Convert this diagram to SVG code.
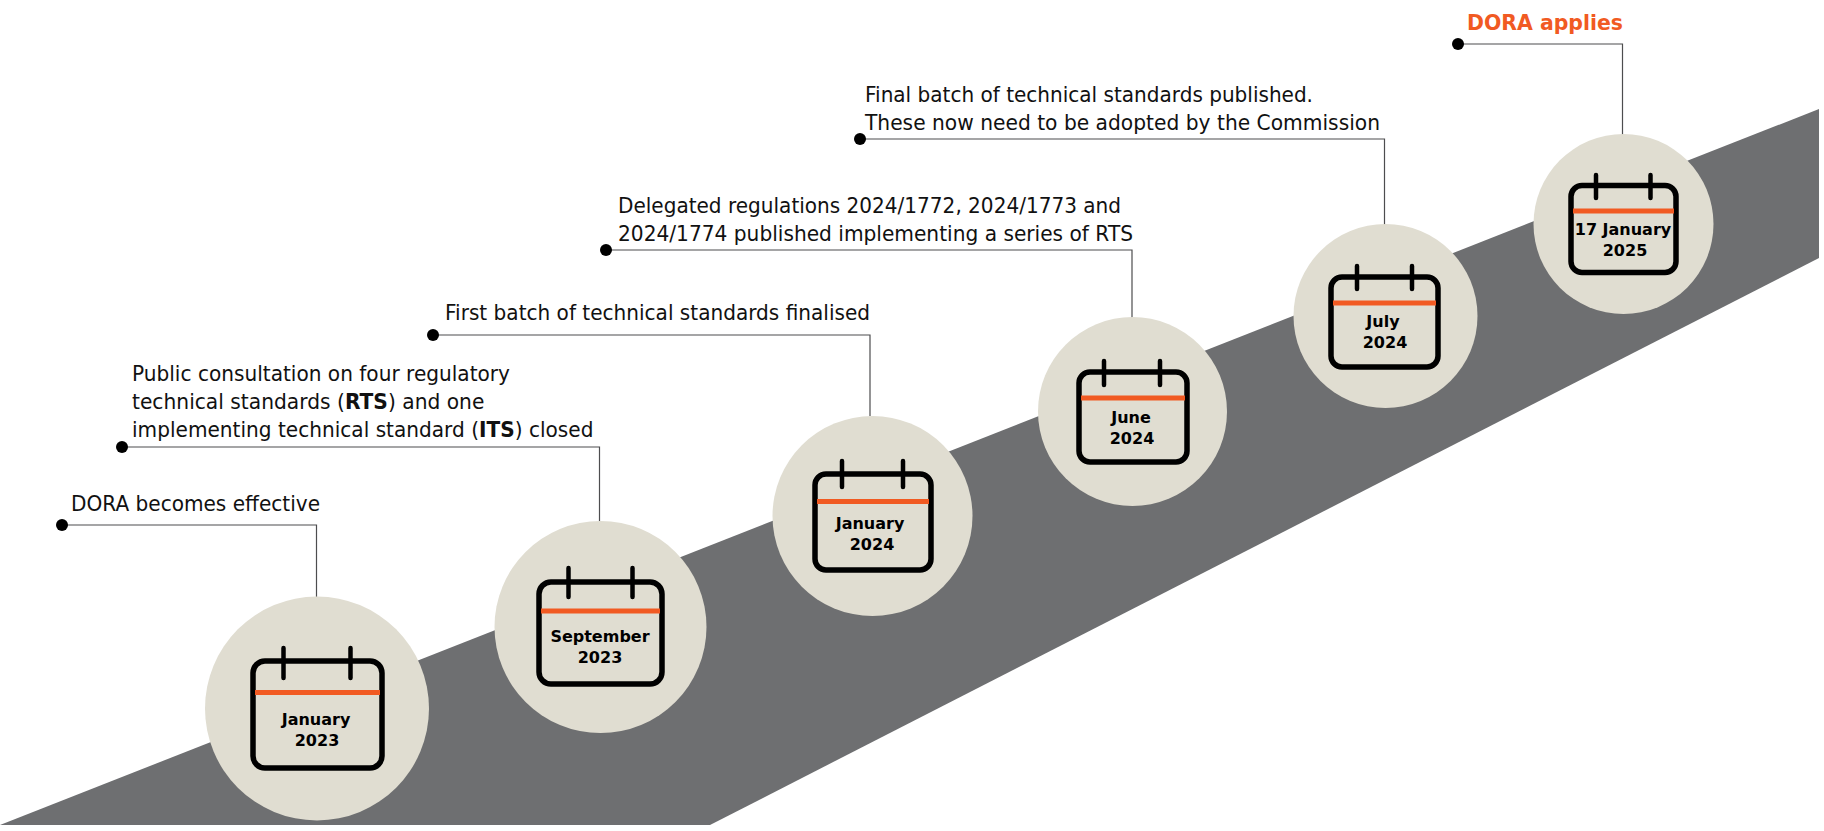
<svg xmlns="http://www.w3.org/2000/svg" width="1824" height="831" viewBox="0 0 1824 831">
<style>
text{font-family:"DejaVu Sans",Verdana,sans-serif}
.t{font-size:20.5px;fill:#111}
.d{font-size:16px;font-weight:bold;fill:#000;text-anchor:middle}
.c{fill:#E0DDD1}
.cal{fill:none;stroke:#000;stroke-width:5.500}
.tick{stroke:#000;stroke-width:4.500;stroke-linecap:round}
.o{stroke:#F15A22;stroke-width:5}
.l{fill:none;stroke:#4d4d4f;stroke-width:1.200}
.dot{fill:#000}
</style>
<polygon id="band" points="0,825 1819,109 1819,258 710,825" fill="#6E6F71"/>
<g id="connectors">
<path class="l" d="M62 525H316.500V598"/>
<path class="l" d="M122 447H599.500V521"/>
<path class="l" d="M433 335H870V416"/>
<path class="l" d="M606 250H1132V318"/>
<path class="l" d="M860 139H1384.500V225"/>
<path class="l" d="M1458 44H1622.500V135"/>
<circle class="dot" cx="62" cy="525" r="6"/>
<circle class="dot" cx="122" cy="447" r="6"/>
<circle class="dot" cx="433" cy="335" r="6"/>
<circle class="dot" cx="606" cy="250" r="6"/>
<circle class="dot" cx="860" cy="139" r="6"/>
<circle class="dot" cx="1458" cy="44" r="6"/>
</g>
<g id="n1">
<circle class="c" cx="317" cy="708.500" r="112"/>
<rect class="cal" x="253" y="661" width="129" height="107" rx="12"/>
<path class="tick" d="M283.500 648V678M350.500 648V678"/><path class="o" d="M255 692.500H380"/>
<text class="d"><tspan x="316" y="725">January</tspan><tspan x="317" y="746">2023</tspan></text>
<text class="t" x="71" y="511" textLength="249" lengthAdjust="spacingAndGlyphs">DORA becomes effective</text>
</g>
<g id="n2">
<circle class="c" cx="600.500" cy="627" r="106"/>
<rect class="cal" x="539" y="582" width="123" height="102" rx="12"/>
<path class="tick" d="M568.500 568V597M632.500 568V597"/><path class="o" d="M541 611H660"/>
<text class="d"><tspan x="600" y="642">September</tspan><tspan x="600" y="663">2023</tspan></text>
<text class="t" x="132" y="381" textLength="378" lengthAdjust="spacingAndGlyphs">Public consultation on four regulatory</text>
<text class="t" transform="translate(132 409) scale(.987 1)">technical standards (<tspan font-weight="bold">RTS</tspan>) and one</text>
<text class="t" transform="translate(132 437) scale(.981 1)">implementing technical standard (<tspan font-weight="bold">ITS</tspan>) closed</text>
</g>
<g id="n3">
<circle class="c" cx="872.500" cy="516" r="100"/>
<rect class="cal" x="815" y="474" width="116" height="96" rx="11"/>
<path class="tick" d="M842 461V487M903 461V487"/><path class="o" d="M817 501.500H929"/>
<text class="d"><tspan x="870" y="529">January</tspan><tspan x="872" y="550">2024</tspan></text>
<text class="t" x="445" y="320" textLength="425" lengthAdjust="spacingAndGlyphs">First batch of technical standards finalised</text>
</g>
<g id="n4">
<circle class="c" cx="1132.500" cy="411.500" r="94.500"/>
<rect class="cal" x="1079" y="372" width="108" height="90" rx="11"/>
<path class="tick" d="M1104 361V385M1160 361V385"/><path class="o" d="M1081 398H1185"/>
<text class="d"><tspan x="1131" y="423">June</tspan><tspan x="1132" y="444">2024</tspan></text>
<text class="t" x="618" y="213" textLength="503" lengthAdjust="spacingAndGlyphs">Delegated regulations 2024/1772, 2024/1773 and</text>
<text class="t" x="618" y="241" textLength="515" lengthAdjust="spacingAndGlyphs">2024/1774 published implementing a series of RTS</text>
</g>
<g id="n5">
<circle class="c" cx="1385.500" cy="316" r="92"/>
<rect class="cal" x="1331" y="277" width="107" height="90" rx="11"/>
<path class="tick" d="M1357 266V289M1412 266V289"/><path class="o" d="M1333 303H1436"/>
<text class="d"><tspan x="1383" y="327">July</tspan><tspan x="1385" y="348">2024</tspan></text>
<text class="t" x="865" y="102" textLength="448" lengthAdjust="spacingAndGlyphs">Final batch of technical standards published.</text>
<text class="t" x="865" y="130" textLength="515" lengthAdjust="spacingAndGlyphs">These now need to be adopted by the Commission</text>
</g>
<g id="n6">
<circle class="c" cx="1623.500" cy="224" r="90"/>
<rect class="cal" x="1571" y="185.500" width="105" height="87" rx="11"/>
<path class="tick" d="M1596 175V198M1650.500 175V198"/><path class="o" d="M1573 211H1674"/>
<text class="d"><tspan x="1623" y="235">17 January</tspan><tspan x="1625" y="256">2025</tspan></text>
<text x="1467" y="30" font-size="22" font-weight="bold" fill="#F15A22" textLength="156" lengthAdjust="spacingAndGlyphs">DORA applies</text>
</g>
</svg>
